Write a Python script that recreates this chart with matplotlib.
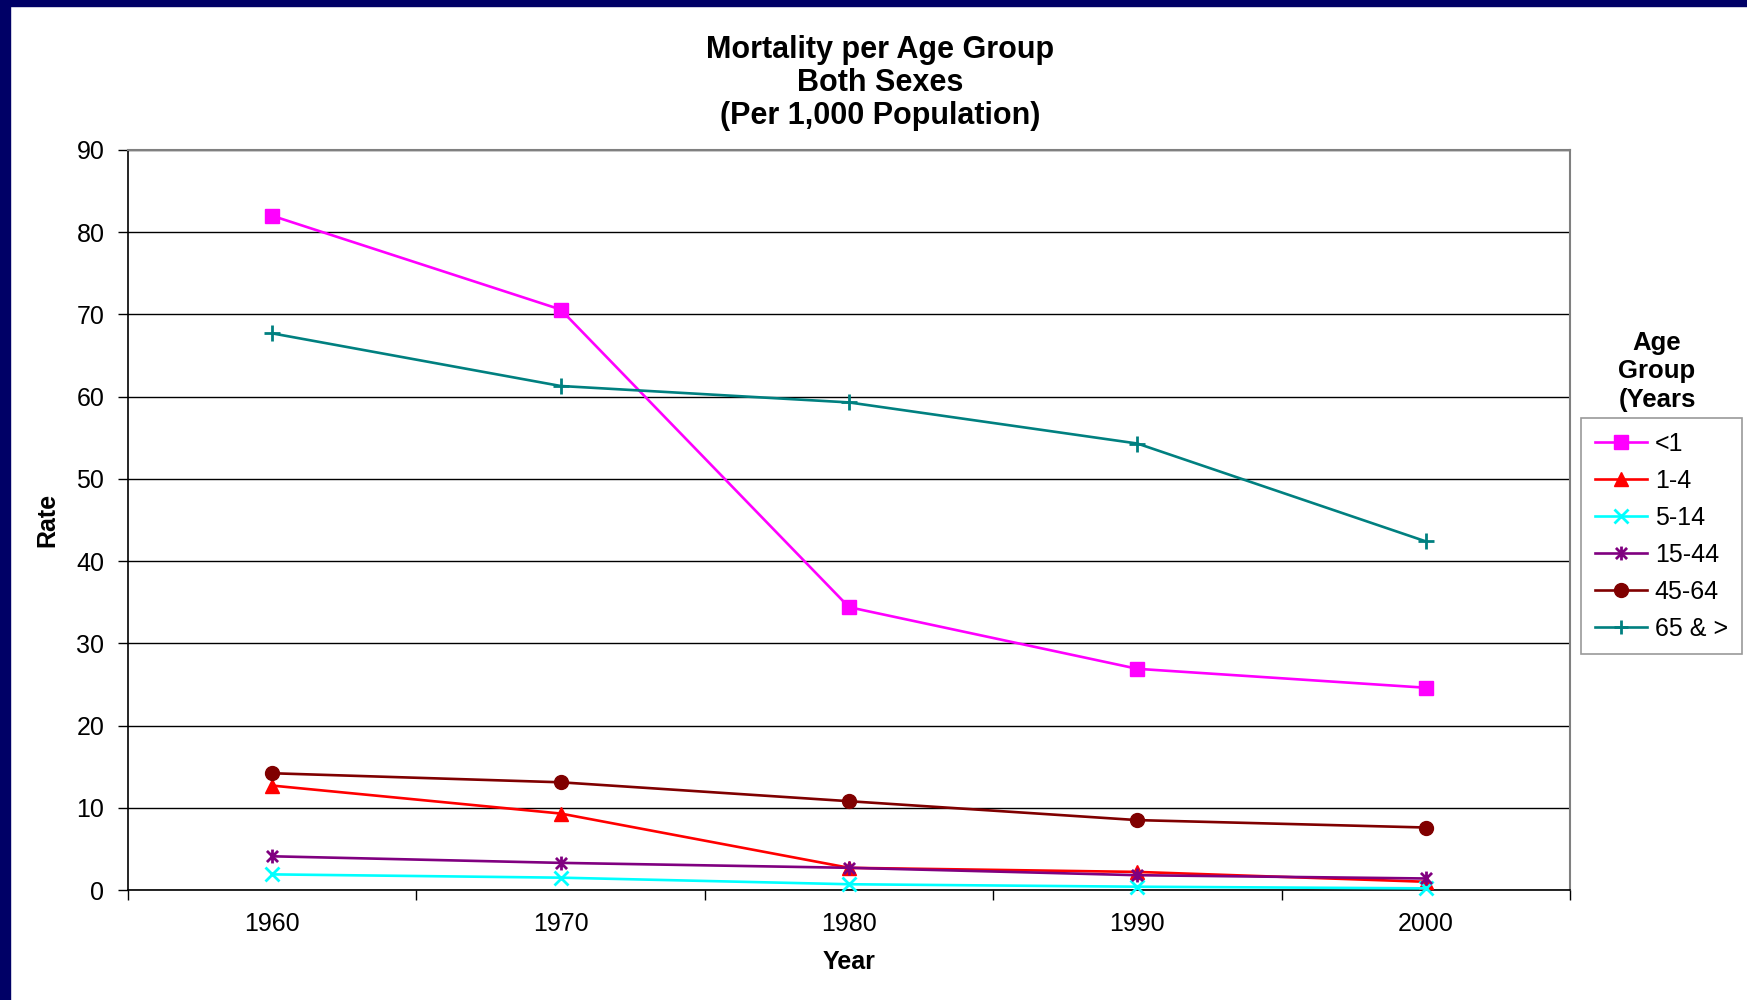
import matplotlib
matplotlib.use("Agg")
import matplotlib.pyplot as plt
from matplotlib.path import Path
from matplotlib.patches import Rectangle

years = ["1960", "1970", "1980", "1990", "2000"]
under1 = [82.0, 70.6, 34.4, 26.9, 24.6]
age1_4 = [12.7, 9.3, 2.7, 2.2, 1.0]
age5_14 = [1.9, 1.5, 0.7, 0.4, 0.2]
age15_44 = [4.1, 3.3, 2.7, 1.8, 1.4]
age45_64 = [14.2, 13.1, 10.8, 8.5, 7.6]
age65 = [67.7, 61.3, 59.3, 54.3, 42.4]
labels = ["<1", "1-4", "5-14", "15-44", "45-64", "65 & >"]
yticks = [0, 10, 20, 30, 40, 50, 60, 70, 80, 90]

plt.rcParams['font.family'] = ['Liberation Sans', 'DejaVu Sans']

star = Path([(-1, -1), (1, 1), (-1, 1), (1, -1), (0, -1.25), (0, 1.25)],
            [Path.MOVETO, Path.LINETO, Path.MOVETO, Path.LINETO, Path.MOVETO, Path.LINETO])

fig = plt.figure(figsize=(17.47, 10), dpi=100)
fig.patch.set_facecolor('white')
fig.add_artist(Rectangle((0, 0), 10/1747, 1, transform=fig.transFigure, color='#000066', zorder=10))
fig.add_artist(Rectangle((0, 1 - 6/1000), 1, 6/1000, transform=fig.transFigure, color='#000066', zorder=10))

ax = fig.add_axes([128/1747, 0.110, (1570-128)/1747, 0.740])
x = list(range(len(years)))
series = [under1, age1_4, age5_14, age15_44, age45_64, age65]
colors = ['#FF00FF', '#FF0000', '#00FFFF', '#800080', '#800000', '#008080']
markers = ['s', '^', 'x', star, 'o', '+']
msizes = [10, 10, 10, 10, 10, 12]
handles = []
for s, c, m, ms, lab in zip(series, colors, markers, msizes, labels):
    mew = 2 if (isinstance(m, str) and m in ('x', '+')) or m is star else 1
    h, = ax.plot(x, s, color=c, marker=m, markersize=ms, linewidth=1.9,
                 markeredgewidth=mew, markerfacecolor=c, markeredgecolor=c,
                 label=lab, clip_on=False, zorder=3)
    handles.append(h)

ax.set_xlim(-0.5, 4.5)
ax.set_ylim(0, 90)
ax.set_yticks(yticks)
ax.set_xticks(x)
ax.set_xticklabels(years)
ax.set_xticks([-0.5, 0.5, 1.5, 2.5, 3.5, 4.5], minor=True)
ax.tick_params(axis='x', which='major', length=0, pad=16, labelsize=18)
ax.tick_params(axis='x', which='minor', length=7, width=1, direction='out', color='black')
ax.tick_params(axis='y', length=7, width=1, direction='out', pad=10, labelsize=18)
ax.yaxis.grid(True, color='black', linewidth=1)
ax.set_axisbelow(True)
for sp in ['top', 'right']:
    ax.spines[sp].set_color('#808080')
    ax.spines[sp].set_linewidth(1.5)
for sp in ['left', 'bottom']:
    ax.spines[sp].set_color('black')
    ax.spines[sp].set_linewidth(1.2)

ax.set_xlabel('Year', fontsize=18, fontweight='bold', labelpad=10)
ax.set_ylabel('Rate', fontsize=18, fontweight='bold', labelpad=12)

fig.text(880/1747, 1 - 50/1000, 'Mortality per Age Group', ha='center', va='center', fontsize=22, fontweight='bold')
fig.text(880/1747, 1 - 83/1000, 'Both Sexes', ha='center', va='center', fontsize=22, fontweight='bold')
fig.text(880/1747, 1 - 116/1000, '(Per 1,000 Population)', ha='center', va='center', fontsize=22, fontweight='bold')

for i, t in enumerate(['Age', 'Group', '(Years']):
    fig.text(1657/1747, 1 - (343 + 28.5*i)/1000, t, ha='center', va='center', fontsize=18.5, fontweight='bold')

leg = fig.legend(handles=handles, loc='upper left', bbox_to_anchor=(1581/1747, 1 - 418/1000),
                 fontsize=18, frameon=True, fancybox=False, edgecolor='#808080',
                 handlelength=2.1, borderpad=0.55, labelspacing=0.52, handletextpad=0.3,
                 borderaxespad=0)
leg.get_frame().set_linewidth(1.2)
for h in leg.legend_handles:
    h.set_markersize(10)

fig.savefig('out.png', dpi=100, facecolor='white')
